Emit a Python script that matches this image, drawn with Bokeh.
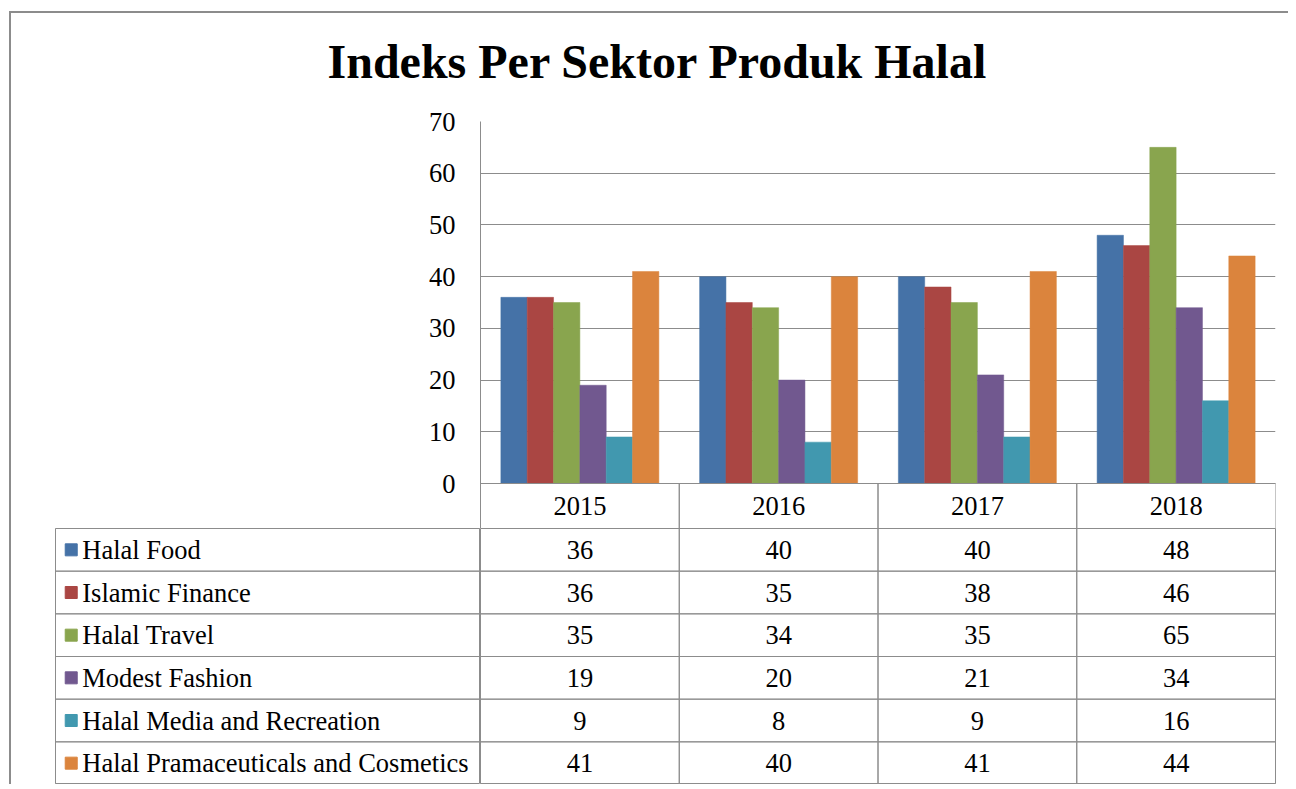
from bokeh.plotting import figure
from bokeh.models import FactorRange, Range1d, FixedTicker, ColumnDataSource, Title
from bokeh.layouts import column, row
from bokeh.transform import dodge
from bokeh.core.properties import value
from bokeh.embed import file_html
from bokeh.resources import INLINE

# ---------------- data ----------------
title_text = "Indeks Per Sektor Produk Halal"
years = ["2015", "2016", "2017", "2018"]
series = ["Halal Food", "Islamic Finance", "Halal Travel", "Modest Fashion",
          "Halal Media and Recreation", "Halal Pramaceuticals and Cosmetics"]
halal_food = [36, 40, 40, 48]
islamic_finance = [36, 35, 38, 46]
halal_travel = [35, 34, 35, 65]
modest_fashion = [19, 20, 21, 34]
halal_media = [9, 8, 9, 16]
halal_pharma = [41, 40, 41, 44]
y_ticks = [0, 10, 20, 30, 40, 50, 60, 70]
colors = ["#4572A7", "#AA4643", "#89A54E", "#71588F", "#4198AF", "#DB843D"]

values_by_series = [halal_food, islamic_finance, halal_travel,
                    modest_fashion, halal_media, halal_pharma]

FONT = "Liberation Serif"
GRID = "#8c8c8c"
TXT = "26.5px"

# ---------------- chart ----------------
y_max = y_ticks[-1]
px_per_unit = 362 / y_max
hdr = 45 / px_per_unit  # header row of the data table, below the zero line

xr = FactorRange(factors=years, range_padding=0)
p = figure(width=1277, height=515, x_range=xr, y_range=Range1d(-hdr, y_max),
           output_backend="svg", toolbar_location=None,
           min_border_left=469, min_border_right=13, min_border_top=108,
           min_border_bottom=0, outline_line_color=None, title=title_text)
p.title.text_font = FONT
p.title.text_font_size = "48px"
p.title.text_font_style = "bold"
p.title.text_color = "black"
p.title.align = "left"
p.title.offset = -153
# spacer between title and plot area
p.add_layout(Title(text=" ", text_font_size="16px"), "above")

src = ColumnDataSource(dict(year=years, **{f"s{i}": v for i, v in enumerate(values_by_series)}))
n = len(series)
w = 0.795 / n
for i, c in enumerate(colors):
    p.vbar(x=dodge("year", (i - (n - 1) / 2) * w, range=p.x_range), top=f"s{i}",
           width=w, source=src, fill_color=c, line_color=c, line_width=0.5)

# header cell borders
p.vbar(x=years, top=0, bottom=-hdr, width=1, fill_color=None, line_color=GRID, line_width=1)

p.xgrid.visible = False
p.ygrid.ticker = FixedTicker(ticks=y_ticks)
p.ygrid.grid_line_color = GRID
p.ygrid.grid_line_width = 1

p.yaxis.ticker = FixedTicker(ticks=y_ticks)
p.yaxis.axis_line_color = GRID
p.yaxis.major_tick_out = 0
p.yaxis.major_tick_in = 0
p.yaxis.minor_tick_out = 0
p.yaxis.minor_tick_in = 0
p.yaxis.major_label_text_font = FONT
p.yaxis.major_label_text_font_size = TXT
p.yaxis.major_label_text_color = "black"
p.yaxis.major_label_standoff = 25

p.xaxis.fixed_location = 0
p.xaxis.axis_line_color = GRID
p.xaxis.major_tick_out = 0
p.xaxis.major_tick_in = 0
p.xaxis.major_label_text_font = FONT
p.xaxis.major_label_text_font_size = TXT
p.xaxis.major_label_text_color = "black"
p.xaxis.major_label_standoff = 13

# ---------------- data table ----------------
tr = FactorRange(factors=list(reversed(series)), range_padding=0)
TH = 256

lab = figure(width=469, height=TH, x_range=Range1d(0, 1), y_range=tr,
             output_backend="svg", toolbar_location=None,
             x_axis_location=None, y_axis_location=None,
             min_border_left=44, min_border_right=0, min_border_top=0, min_border_bottom=0,
             outline_line_color=GRID)
lab.grid.visible = False
lab.rect(x=0.5, y=series, width=1, height=1, fill_color=None, line_color=GRID)
lab.scatter(x=0.037, y=series, marker="square", size=12, fill_color=colors, line_color=colors)
lab.text(x=0.063, y=series, text=series, text_font=value(FONT), text_font_size=TXT,
         text_baseline="middle", text_align="left", text_color="black")

cell_x = [yr for s in series for yr in years]
cell_y = [s for s in series for yr in years]
cell_t = [str(v) for vals in values_by_series for v in vals]

vf = figure(width=808, height=TH, x_range=xr, y_range=tr,
            output_backend="svg", toolbar_location=None,
            x_axis_location=None, y_axis_location=None,
            min_border_left=0, min_border_right=13, min_border_top=0, min_border_bottom=0,
            outline_line_color=GRID)
vf.grid.visible = False
vf.rect(x=cell_x, y=cell_y, width=1, height=1, fill_color=None, line_color=GRID)
vf.text(x=cell_x, y=cell_y, text=cell_t, text_font=value(FONT), text_font_size=TXT,
        text_baseline="middle", text_align="center", text_color="black")

layout = column(p, row(lab, vf),
                styles={"border-top": f"2px solid {GRID}", "border-left": f"2px solid {GRID}",
                        "margin-left": "9px", "margin-top": "11px"})

open("out.html", "w").write(file_html(layout, INLINE))
